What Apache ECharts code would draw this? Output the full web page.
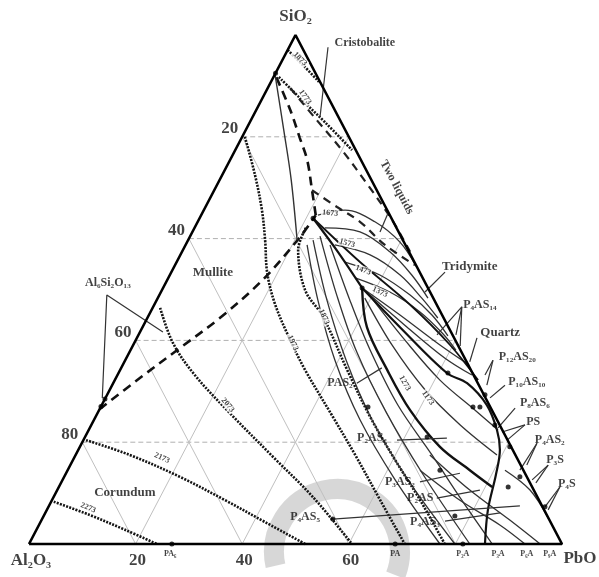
<!DOCTYPE html>
<html><head><meta charset="utf-8">
<script src="https://cdn.jsdelivr.net/npm/echarts@6/dist/echarts.min.js"></script>
<style>html,body{margin:0;padding:0;background:#fff}#c{width:599px;height:577px}</style>
</head><body><div id="c"></div>
<script>
// All compositions are ternary wt%: [PbO, SiO2]  (Al2O3 = 100 - PbO - SiO2)
const vertexNames = ['Al₂O₃', 'PbO', 'SiO₂'];
const gridTicks = [20, 40, 60, 80];

// phase boundaries
const mulliteBoundary = [[0,26.5],[4.5,32.6],[9.05,38.5],[13.6,44.4],[17.9,51.9],[20.7,60.3],[21.5,64.6]];
const silicaBoundary = [[21.5,64.6],[18.35,69.5],[14.5,75.4],[10.9,79.8],[6.35,85.3],[0,92.3]];
const cristobaliteLine = [[0,92.3],[7.15,81.3],[13.45,71.5],[20.45,59.7]];
const twoLiquidsA = [[4.2,89.6],[11.8,83.7],[20.0,77.4],[28.35,70.5],[36.3,63.65],[42.8,57.4]];
const twoLiquidsB = [[18.35,69.5],[24.7,66.2],[30.45,63.3],[37.4,58.75],[45.0,54.8]];

// isotherms (dotted)
const iso2273 = [[0.5,8.3],[8.55,5.7],[16.6,2.8],[24.0,0]];
const iso2173 = [[0.5,20.4],[10.15,17.5],[21.7,13.2],[32.5,8.6],[42.15,4.3],[51.8,0]];
const iso2073 = [[1.4,46.4],[7.25,39.5],[14.5,33.2],[24.85,25.7],[37.25,17.1],[48.7,9.2],[60.6,0]];
const iso1973 = [[0.5,80],[6.15,72.5],[10.9,65.6],[14.45,59.7],[18.1,53.2],[22.7,47.0],[28.95,40.1],[34.7,34.2],[44.5,25.0],[52.45,17.5],[61.6,8.6],[70.5,0]];
const iso1873m = [[20.9,62.1],[21.6,57.8],[26.85,49.9],[32.9,44.6],[42.6,34.2],[51.5,25.0],[60.45,16.5],[69.1,8.6],[78,0]];
const iso1873c = [[0,97.05],[4.35,94.1],[9.0,90.8]];
const iso1773c = [[1.0,91.75],[7.05,87.6],[14.05,82.9],[21.9,77.4]];

// thick solid boundaries
const boundaryJ = [[21.3,64.0],[29.25,57.4],[37.35,50.3]];
const boundaryD = [[21.3,64.0],[34.4,55.4],[48.0,47.0],[59.45,39.1],[68.15,32.2]];
const lensLeft = [[37.35,50.3],[42.1,42.6],[50.1,34.2],[58.35,26.3],[67.55,19.1],[75.45,14.5],[81.3,11.2]];
const lensRight = [[37.35,50.3],[48.3,42.6],[61.6,33.6],[66.4,31.6],[72.25,27.3],[76.6,22.4],[79.1,18.5],[80.8,13.6],[82.75,6.7],[85.55,0]];

// thin solid isotherms
const tridArc1 = [[21.9,64.6],[26.5,65.6],[33.25,63.3],[39.95,59.3],[45.3,54.6]];
const tridArc2 = [[24.45,62.1],[31.45,61.3],[39.0,57.4],[45.45,52.8],[50.7,48.3]];
const tridArc3 = [[28.0,58.75],[35.6,56.8],[43.2,52.85],[49.55,48.3],[54.5,44.4]];
const tridArc4 = [[31.6,55.4],[39.4,52.85],[47.05,48.9],[53.1,45.0],[58.15,40.9]];
const tridArc5 = [[35.05,52.3],[42.95,49.5],[50.55,45.6],[56.8,41.45],[61.05,38.1]];
const fan1 = [[37.35,50.3],[47.1,45.0],[57.55,39.1],[64.95,35.2]];
const fan2 = [[37.35,50.3],[49.0,43.0],[59.8,36.5],[66.5,33.2]];
const liq1 = [[22.8,58.75],[30.25,47.9],[39.35,36.1],[49.9,24.4],[62.4,12.6],[77.1,0]];
const liq2 = [[23.45,59.7],[31.95,47.9],[41.45,36.1],[52.15,24.4],[64.8,12.6],[79.9,0]];
const liq3 = [[24.35,60.5],[33.45,48.7],[42.65,37.7],[54.05,25.9],[67.0,13.75],[82.7,0]];
const liq4 = [[27.1,58.75],[36.25,47.9],[44.95,38.1],[55.55,27.3],[66.85,17.5],[76.9,8.6],[86.9,0]];
const lens1 = [[38.85,48.3],[48.55,39.1],[59.15,30.3],[69.2,23.4],[79.05,17.5]];
const lens2 = [[39.65,48.7],[50.45,40.1],[61.0,32.2],[70.55,26.3],[76.8,22.4]];
const corner1 = [[66.45,17.5],[77.4,10.6],[87.85,4.7],[95.9,0]];
const corner2 = [[66.1,14.5],[76.55,8.6],[86.55,3.7],[93.05,0]];
const corner3 = [[82.05,14.5],[88.7,10.6],[94.85,5.1]];

// compounds / invariant points
const compoundPoints = [[0,27],[0,28.5],[0,92.5],[21.3,64.0],[37.35,50.3],[50.15,26.9],[26.8,0],[54.55,4.9],[77.15,5.5],[64.2,21.0],[69.85,14.5],[61.8,33.6],[69.85,26.9],[70.9,29.3],[71.15,26.9],[75.7,23.4],[80.65,19.1],[85.5,13.2],[84.3,11.2],[93.15,7.3],[68.7,0],[81.4,0]];

// labels
const fieldNames = ['Cristobalite','Two liquids','Tridymite','Quartz','Mullite','Corundum'];
const fieldAnchors = [[13.8,98.4],[33.95,70.1],[55.5,54.4],[67.65,41.5],[7.8,53.4],[13.0,10.0]];
const compoundNames = ['Al₆Si₂O₁₃','P₄AS₁₄','P₁₂AS₂₀','P₁₀AS₁₀','P₈AS₆','PS','P₄AS₂','P₃S','P₄S','PAS₂','P₂AS₂','P₃AS₂','P₂AS','P₄AS₅','P₄AS₃'];
const compoundAnchors = [[-10.85,51.3],[61.1,47.0],[73.25,36.7],[77.5,31.8],[81.05,27.7],[82.6,24.0],[87.5,20.4],[90.45,16.5],[95,11.8],[42.55,31.6],[53.95,20.8],[63.5,12.2],[68.9,9.0],[49.15,5.3],[72.15,4.3]];
const binaryNames = ['PA₆','PA','P₂A','P₃A','P₆A','P₉A'];
const binaryPbO = [26.5,68.7,81.4,88.0,93.4,97.7];
const isoNames = ['1873','1773','1673','1573','1473','1373','1973','1873','2073','2173','2273','1273','1173'];
const isoAnchors = [[3.2,95.3],[7.9,87.8],[24.0,65.0],[30.15,59.1],[35.8,53.8],[41.1,49.5],[29.75,39.5],[33.05,44.6],[23.65,27.3],[16.5,16.9],[7.55,7.1],[54.7,31.6],[60.5,28.7]];
const isoAngles = [-45,-55,-5,-15,-20,-25,-65,-65,-50,-25,-22,-60,-55];

// leader lines
const leaders = [
  [[7.3,97.6],[12.65,83.9]],
  [[34.85,65.0],[35.2,61.3]],
  [[51.35,53.4],[49.55,49.5]],
  [[56.0,41.1],[57.9,46.6],[59.55,41.1]],
  [[57.9,46.6],[61.45,38.9]],
  [[63.8,40.5],[64.8,35.8]],
  [[69.0,36.1],[68.95,33.2]],
  [[69.0,36.1],[70.3,31.2]],
  [[73.7,31.2],[72.15,28.7]],
  [[77.85,26.7],[76.6,22.8]],
  [[81.35,23.4],[77.75,22.0]],
  [[81.35,23.4],[79.5,20.4]],
  [[85.4,19.8],[85.65,15.5]],
  [[85.4,19.8],[84.85,14.5]],
  [[89.65,15.5],[88.1,12.6]],
  [[89.65,15.5],[89.1,12.0]],
  [[94.0,11.2],[93.15,7.3]],
  [[94.0,11.2],[94.05,6.7]],
  [[45.7,31.6],[48.9,34.6]],
  [[58.85,20.4],[68.0,20.8]],
  [[67.25,12.2],[73.9,13.9]],
  [[72.0,9.0],[79.3,10.6]],
  [[54.55,4.9],[88.35,7.5]],
  [[75.8,4.5],[85.35,6.1]],
  [[-0.6,28.7],[-9.85,48.9],[4.3,41.65]]
];

const toXY = ([p, s]) => [p + s / 2, s];
const SERIF = '"Liberation Serif","DejaVu Serif","Times New Roman",serif';
const series = [];
function addLine(pts, width, type, color, smooth, z) {
  series.push({type:'line', data: pts.map(toXY), symbol:'none', smooth: smooth ? 0.35 : false,
    lineStyle:{width, type, color}, silent:true, z: z || 3, clip:false, animation:false});
}
// grid
gridTicks.forEach(t => {
  addLine([[0,t],[100-t,t]], 1, [5,3], '#b0b0b0', false, 1);
  addLine([[t,0],[t,100-t]], 1, 'solid', '#c0c0c0', false, 1);
  addLine([[100-t,0],[0,100-t]], 1, 'solid', '#c0c0c0', false, 1);
});
// dotted isotherms
[iso2273, iso2173, iso2073, iso1973, iso1873m, iso1873c, iso1773c].forEach(c => addLine(c, 2.6, [2,1.3], '#151515', true, 3));
// thin solid isotherms
[tridArc1,tridArc2,tridArc3,tridArc4,tridArc5,fan1,fan2,liq1,liq2,liq3,liq4,lens1,lens2,corner1,corner2,corner3].forEach(c => addLine(c, 1.3, 'solid', '#333', true, 3));
// dashed boundaries
addLine(mulliteBoundary, 2.6, [9,6], '#111', true, 4);
addLine(silicaBoundary, 2.6, [9,6], '#111', true, 4);
addLine(twoLiquidsA, 2.2, [8,6], '#222', true, 4);
addLine(twoLiquidsB, 2.2, [8,6], '#222', true, 4);
addLine(cristobaliteLine, 1.4, 'solid', '#333', true, 4);
// thick solid boundaries
addLine(boundaryJ, 2.2, 'solid', '#111', true, 4);
addLine(boundaryD, 1.8, 'solid', '#111', true, 4);
addLine(lensLeft, 2.4, 'solid', '#111', true, 4);
addLine(lensRight, 2.2, 'solid', '#111', true, 4);
// leaders
leaders.forEach(l => addLine(l, 1.2, 'solid', '#333', false, 5));
// triangle
addLine([[0,0],[100,0],[0,100],[0,0]], 2.6, 'solid', '#000', false, 6);

// points
series.push({type:'scatter', data: compoundPoints.map(toXY), symbol:'circle', symbolSize:5,
  itemStyle:{color:'#000'}, z:7, silent:true, animation:false});

function textSeries(items, z) {
  series.push({type:'scatter', symbolSize:0, data: items, z: z || 8, silent:true, animation:false, clip:false});
}
const bold = (fs, extra) => Object.assign({show:true, fontFamily:SERIF, fontWeight:'bold', fontSize:fs, color:'#111'}, extra || {});
// vertex labels
textSeries([
  {value: toXY([0,0]), label: bold(17, {formatter: vertexNames[0], position:'bottom', distance:8, offset:[2,0]})},
  {value: toXY([100,0]), label: bold(17, {formatter: vertexNames[1], position:'bottom', distance:6, offset:[18,0]})},
  {value: toXY([0,100]), label: bold(17, {formatter: vertexNames[2], position:'top', distance:10})}
]);
// tick labels
textSeries(gridTicks.map(t => ({value: toXY([0,100-t]), label: bold(17, {formatter: String(t), position:'left', distance:4, offset:[0,-8]})})));
textSeries(gridTicks.filter(t => t < 80).map(t => ({value: toXY([t,0]), label: bold(17, {formatter: String(t), position:'bottom', distance:8, offset:[2,0]})})));
// binary compound labels
textSeries(binaryNames.map((n,i) => ({value: toXY([binaryPbO[i],0]), label: bold(8, {formatter:n, position:'bottom', distance:6})})));
// field labels
textSeries(fieldNames.map((n,i) => ({value: toXY(fieldAnchors[i]), label: bold(n === 'Cristobalite' || n === 'Two liquids' ? 12 : 13, {formatter:n, position:'inside', rotate: n === 'Two liquids' ? -62 : 0})})));
// compound labels
textSeries(compoundNames.map((n,i) => ({value: toXY(compoundAnchors[i]), label: bold(12, {formatter:n, position:'inside'})})));
// isotherm labels
textSeries(isoNames.map((n,i) => ({value: toXY(isoAnchors[i]), label: bold(8, {formatter:n, position:'inside', rotate: isoAngles[i], backgroundColor:'#fff', padding:[0,1]})})), 6);

const chart = echarts.init(document.getElementById('c'), null, {renderer:'canvas'});
chart.setOption({
  animation:false,
  backgroundColor:'#fff',
  grid:{left:29, right:37, top:35, bottom:33},
  xAxis:{type:'value', min:0, max:100, show:false},
  yAxis:{type:'value', min:0, max:100, show:false},
  graphic:[{type:'arc', shape:{cx:337, cy:552, r:63, startAngle:Math.PI*0.93, endAngle:Math.PI*2.12}, style:{stroke:'rgba(175,175,175,0.5)', lineWidth:20, fill:null}, z:0, silent:true}],
  series
});
</script></body></html>
